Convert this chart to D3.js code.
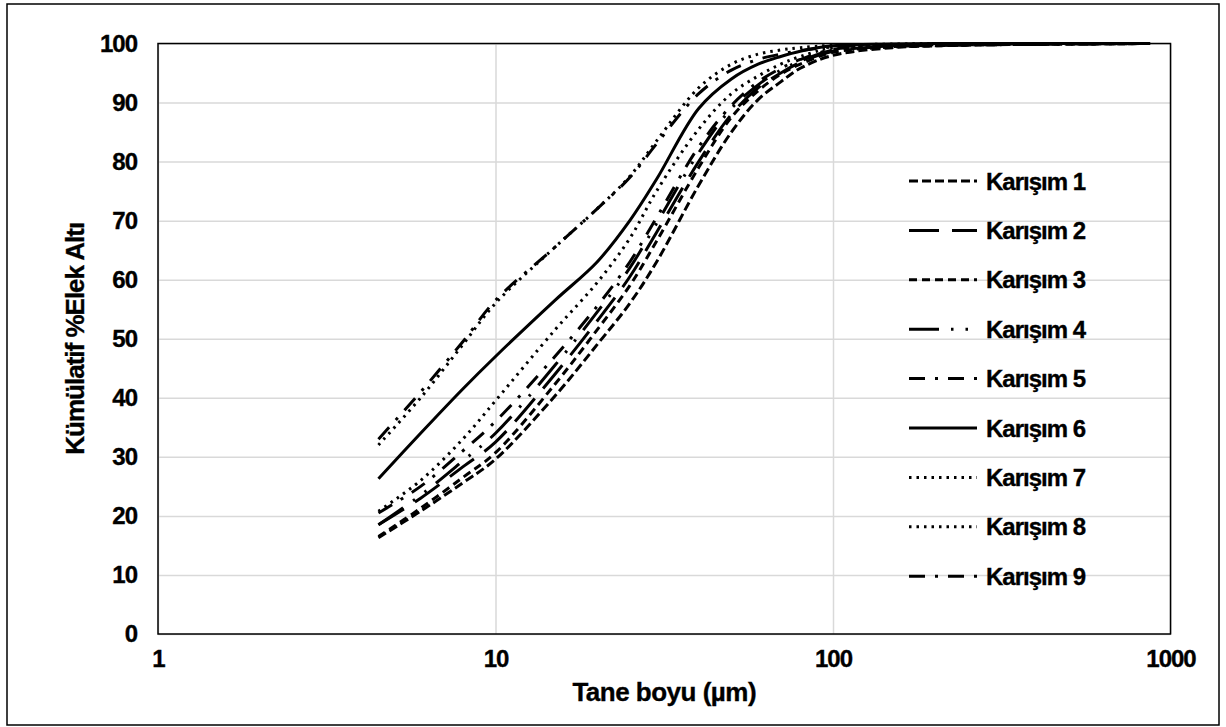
<!DOCTYPE html>
<html>
<head>
<meta charset="utf-8">
<script src="https://cdn.jsdelivr.net/npm/d3@7"></script>
<style>
  body { margin: 0; background: #fff; }
  svg text { font-family: "Liberation Sans", Arial, sans-serif; font-weight: bold; fill: #000;
    stroke: #000; stroke-width: 0.35px; }
</style>
</head>
<body>
<svg id="chart" width="1226" height="727"></svg>
<script>
'use strict';

// particle sizes (µm) shared by every mixture
const sizes = [4.5, 6, 8, 10, 15, 20, 25, 30, 40, 50, 60, 70, 80, 100, 150, 200, 300, 500, 870];

const karisim1 = [16.3, 20.8, 25.6, 29.6, 40.3, 49, 56, 63, 76, 85, 90.5, 93.5, 95.8, 98, 99.3, 99.6, 99.8, 99.9, 100];
const karisim2 = [18.5, 23, 28.3, 32.5, 44, 53, 60.5, 68, 80, 88, 92.5, 95, 96.8, 98.7, 99.5, 99.7, 99.8, 99.9, 100];
const karisim3 = [16.5, 21.3, 26.5, 30.7, 42.3, 51.5, 59, 66.5, 79, 87.5, 92, 94.8, 96.5, 98.5, 99.4, 99.6, 99.8, 99.9, 100];
const karisim4 = [18.5, 23.5, 29.3, 34, 45.5, 54.5, 62, 69.5, 81.5, 89, 93, 95.5, 97, 98.9, 99.6, 99.7, 99.8, 99.9, 100];
const karisim5 = [20.5, 25, 31, 36, 47, 55.5, 63, 70.5, 82.5, 89.5, 93.5, 95.8, 97.3, 99, 99.6, 99.8, 99.9, 100, 100];
const karisim6 = [26.3, 34, 41.5, 47, 56.5, 63, 70, 77, 89, 94, 96.5, 97.8, 98.7, 99.6, 99.9, 100, 100, 100, 100];
const karisim7 = [20.8, 26, 33, 39.5, 51.5, 59.5, 67, 75, 85.5, 91.5, 94.5, 96.5, 97.8, 99.3, 99.7, 99.8, 99.9, 100, 100];
const karisim8 = [32, 40, 49, 56, 65.5, 72, 77.5, 83.5, 92.5, 96.5, 98.2, 98.9, 99.3, 99.7, 99.9, 100, 100, 100, 100];
const karisim9 = [33, 41, 49.5, 56.5, 65.5, 72, 77.3, 83, 91.5, 95.5, 97.3, 98.2, 98.8, 99.4, 99.7, 99.8, 99.9, 100, 100];

const seriesNames = ['Karışım 1', 'Karışım 2', 'Karışım 3', 'Karışım 4', 'Karışım 5',
  'Karışım 6', 'Karışım 7', 'Karışım 8', 'Karışım 9'];
const seriesValues = [karisim1, karisim2, karisim3, karisim4, karisim5,
  karisim6, karisim7, karisim8, karisim9];

const xTicks = [1, 10, 100, 1000];
const yTicks = [0, 10, 20, 30, 40, 50, 60, 70, 80, 90, 100];

const xTitle = 'Tane boyu (µm)';
const yTitle = 'Kümülatif %Elek Altı';

// Excel style dash patterns, one per series
const dashes = ['9,4', '30,13', '8,5', '30,12,2.5,12,2.5,12', '16,10,3,10',
  null, '2.5,5', '2.5,5', '16,10,3,10'];

function drawChart() {
  const svg = d3.select('#chart');
  const margin = {left: 158, top: 43.5, right: 55.5, bottom: 93};
  const width = 1226 - margin.left - margin.right;
  const height = 727 - margin.top - margin.bottom;

  svg.append('rect')
    .attr('x', 7).attr('y', 4)
    .attr('width', 1212).attr('height', 721)
    .attr('fill', '#fff')
    .attr('stroke', '#000')
    .attr('stroke-width', 1.5);

  const g = svg.append('g')
    .attr('transform', `translate(${margin.left},${margin.top})`);

  const x = d3.scaleLog().domain([1, 1000]).range([0, width]);
  const y = d3.scaleLinear().domain([0, 100]).range([height, 0]);

  // gridlines
  g.append('g')
    .attr('transform', `translate(0,${height})`)
    .call(d3.axisBottom(x).tickValues(xTicks).tickSize(-height).tickFormat(''))
    .call(a => a.select('.domain').remove())
    .selectAll('line').attr('stroke', '#d9d9d9').attr('stroke-width', 1.5);

  g.append('g')
    .call(d3.axisLeft(y).tickValues(yTicks).tickSize(-width).tickFormat(''))
    .call(a => a.select('.domain').remove())
    .selectAll('line').attr('stroke', '#d9d9d9').attr('stroke-width', 1.5);

  // tick labels
  g.append('g')
    .attr('transform', `translate(0,${height})`)
    .call(d3.axisBottom(x).tickValues(xTicks).tickSize(0).tickPadding(16).tickFormat(d3.format('d')))
    .call(a => a.select('.domain').remove())
    .selectAll('text')
      .attr('font-size', 24)
      .attr('letter-spacing', -1)
      .attr('dy', '0.71em');

  g.append('g')
    .call(d3.axisLeft(y).tickValues(yTicks).tickSize(0).tickPadding(21))
    .call(a => a.select('.domain').remove())
    .selectAll('text')
      .attr('font-size', 24)
      .attr('letter-spacing', -1);

  const line = d3.line()
    .x(d => x(d[0]))
    .y(d => y(d[1]))
    .curve(d3.curveCatmullRom.alpha(0.5));

  seriesValues.forEach((vals, i) => {
    g.append('path')
      .datum(sizes.map((s, j) => [s, vals[j]]))
      .attr('d', line)
      .attr('fill', 'none')
      .attr('stroke', '#000')
      .attr('stroke-width', 3)
      .attr('stroke-dasharray', dashes[i]);
  });

  // plot frame
  g.append('rect')
    .attr('width', width).attr('height', height)
    .attr('fill', 'none')
    .attr('stroke', '#000')
    .attr('stroke-width', 1.5);

  // legend
  const legend = svg.append('g').attr('transform', 'translate(909,181)');
  seriesNames.forEach((name, i) => {
    const row = legend.append('g').attr('transform', `translate(0,${i * 49.4})`);
    row.append('line')
      .attr('x1', 0).attr('x2', 68)
      .attr('stroke', '#000')
      .attr('stroke-width', 3)
      .attr('stroke-dasharray', dashes[i]);
    row.append('text')
      .attr('x', 77)
      .attr('dy', '0.36em')
      .attr('font-size', 24)
      .attr('letter-spacing', -1)
      .text(name);
  });

  svg.append('text')
    .attr('x', margin.left + width / 2)
    .attr('y', 701)
    .attr('text-anchor', 'middle')
    .attr('font-size', 26)
    .attr('letter-spacing', -0.5)
    .text(xTitle);

  svg.append('text')
    .attr('transform', `translate(84,${margin.top + height / 2}) rotate(-90)`)
    .attr('text-anchor', 'middle')
    .attr('font-size', 26)
    .attr('letter-spacing', -1)
    .text(yTitle);
}

document.addEventListener('DOMContentLoaded', drawChart);
</script>
</body>
</html>
